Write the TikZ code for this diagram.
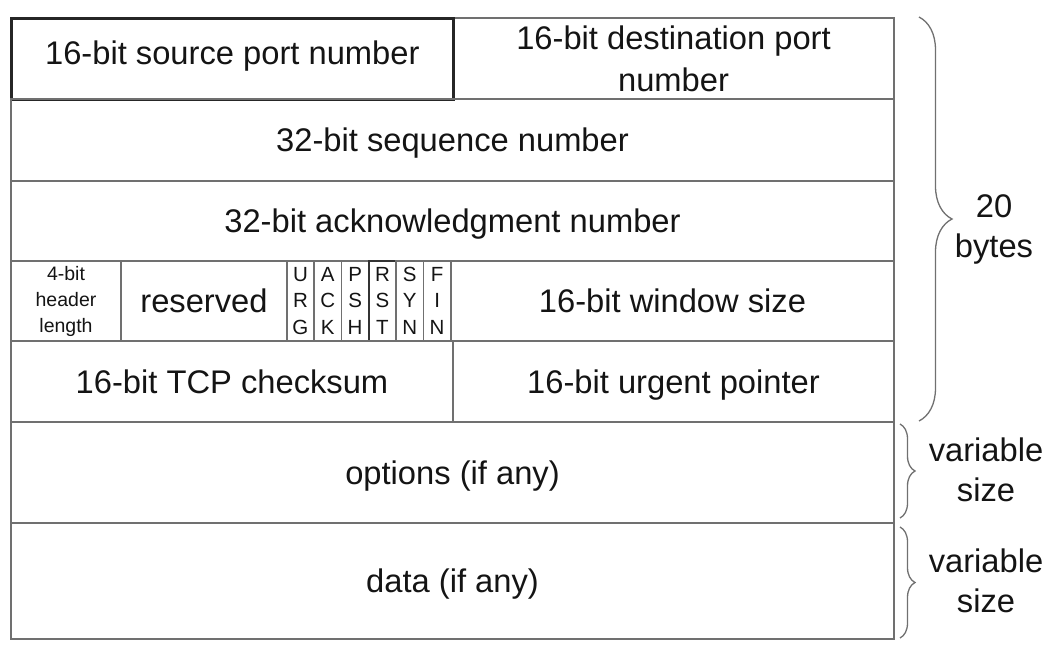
\documentclass[tikz,border=0pt]{standalone}
\usepackage{fontspec}
\setmainfont{Liberation Sans}
\usetikzlibrary{decorations.pathreplacing}
\definecolor{linegray}{HTML}{707070}
\definecolor{txt}{HTML}{141414}
\newcommand{\mainsz}{\fontsize{32.7}{38}\selectfont}
\newcommand{\twosz}{\fontsize{32.7}{42}\selectfont}
\newcommand{\lblsz}{\fontsize{32.7}{40}\selectfont}
\newcommand{\smallsz}{\fontsize{19.5}{26}\selectfont}
\newcommand{\flagsz}{\fontsize{20.5}{26.5}\selectfont}
\tikzset{
  cell/.style={draw=linegray, line width=2pt, anchor=north west, inner sep=0pt,
    align=center, font=\mainsz, text=txt},
  oneline/.style={text height=23.4pt, text depth=0pt},
  thickcell/.style={cell, draw=black!85, line width=2.6pt},
  flagcell/.style={cell, line width=1.6pt, font=\flagsz, minimum width=27.33pt, minimum height=80pt},
  bracestyle/.style={draw=linegray, line width=1.3pt, decorate},
  lbl/.style={font=\lblsz, text=txt, align=center, inner sep=0pt}
}
\begin{document}
\begin{tikzpicture}[x=1pt, y=-1pt]
\useasboundingbox (0,0) rectangle (1063,653);
% row 1
\node[cell, font=\twosz, minimum width=441pt, minimum height=81pt] (dst) at (452,17) {16-bit destination port\\number};
\node[thickcell, oneline, text depth=12pt, minimum width=442pt, minimum height=81pt] (src) at (10,17) {16-bit source port number};
% rows 2-3
\node[cell, oneline, minimum width=883pt, minimum height=82pt] (seq) at (10,98) {32-bit sequence number};
\node[cell, oneline, minimum width=883pt, minimum height=80pt] (ack) at (10,180) {32-bit acknowledgment number};
% row 4
\node[cell, font=\smallsz, minimum width=110pt, minimum height=80pt] (hlen) at (10,260) {4-bit\\header\\length};
\node[cell, oneline, minimum width=166pt, minimum height=80pt] (res) at (120,260) {reserved};
\node[flagcell] (urgf) at (286,260) {U\\R\\G};
\node[flagcell] (ackf) at (313.33,260) {A\\C\\K};
\node[flagcell] (pshf) at (340.67,260) {P\\S\\H};
\node[flagcell, draw=black!80] (rstf) at (368,260) {R\\S\\T};
\node[flagcell] (synf) at (395.33,260) {S\\Y\\N};
\node[flagcell] (finf) at (422.67,260) {F\\I\\N};
\node[cell, oneline, minimum width=443pt, minimum height=80pt] (win) at (450,260) {16-bit window size};
% row 5
\node[cell, oneline, minimum width=442pt, minimum height=81pt] (chk) at (10,340) {16-bit TCP checksum};
\node[cell, oneline, minimum width=441pt, minimum height=81pt] (urg) at (452,340) {16-bit urgent pointer};
% rows 6-7
\node[cell, oneline, minimum width=883pt, minimum height=101pt] (opt) at (10,421) {options (if any)};
\node[cell, oneline, minimum width=883pt, minimum height=116pt] (data) at (10,522) {data (if any)};
% braces
\coordinate (b1t) at (919,17);
\coordinate (b1b) at (919,421);
\coordinate (b2t) at (900,424);
\coordinate (b2b) at (900,518);
\coordinate (b3t) at (900,527);
\coordinate (b3b) at (900,638);
\draw[bracestyle, decoration={brace, amplitude=33pt}] (b1t) -- (b1b);
\draw[bracestyle, decoration={brace, amplitude=15pt}] (b2t) -- (b2b);
\draw[bracestyle, decoration={brace, amplitude=15pt}] (b3t) -- (b3b);
\node[lbl] (l1) at (994,229) {20\\bytes};
\node[lbl] (l2) at (986,470) {variable\\size};
\node[lbl] (l3) at (986,581) {variable\\size};
\end{tikzpicture}
\end{document}
